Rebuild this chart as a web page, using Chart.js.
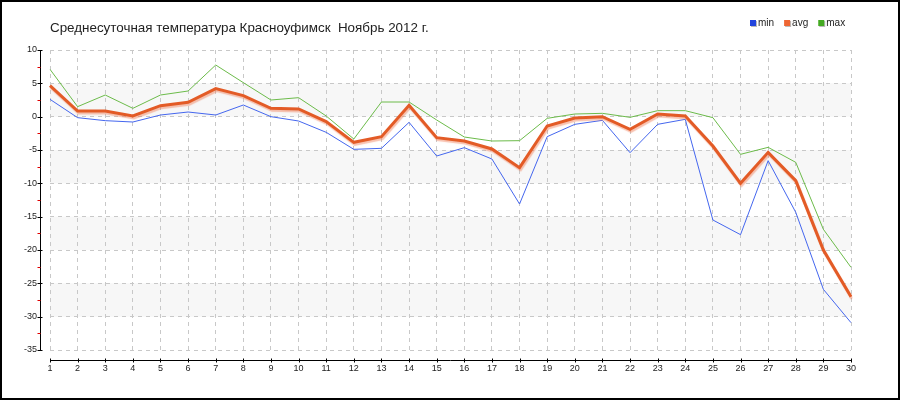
<!DOCTYPE html>
<html>
<head>
<meta charset="utf-8">
<script src="https://cdn.jsdelivr.net/npm/chart.js@4/dist/chart.umd.min.js"></script>
<style>
  html, body { margin: 0; padding: 0; background: #fff; }
  #wrap { width: 900px; height: 400px; }
</style>
</head>
<body>
<div id="wrap"><canvas id="chart" width="900" height="400"></canvas></div>
<script>
// данные: ноябрь 2012, Красноуфимск
const days = ['1','2','3','4','5','6','7','8','9','10','11','12','13','14','15',
  '16','17','18','19','20','21','22','23','24','25','26','27','28','29','30'];
const minT = [2.6, -0.15, -0.6, -0.8, 0.25, 0.7, 0.25, 1.75, 0, -0.65, -2.35, -4.9, -4.75, -0.85, -5.9,
  -4.65, -6.35, -13.1, -3.0, -1.15, -0.55, -5.4, -1.15, -0.4, -15.5, -17.7, -6.6, -14.35, -25.9, -30.9];
const avgT = [4.65, 0.85, 0.85, 0.1, 1.65, 2.15, 4.2, 3.15, 1.25, 1.15, -0.75, -3.85, -3.0, 1.7, -3.15,
  -3.65, -4.85, -7.65, -1.4, -0.2, 0, -1.9, 0.4, 0.1, -4.4, -10, -5.35, -9.6, -20, -27];
const maxT = [7.1, 1.5, 3.25, 1.25, 3.25, 3.85, 7.75, 5.1, 2.5, 2.85, 0.1, -3.35, 2.2, 2.2, -0.5,
  -3.05, -3.65, -3.6, -0.25, 0.4, 0.5, -0.1, 0.9, 0.9, -0.15, -5.65, -4.6, -6.85, -16.9, -22.6];
const yMin = -35, yMax = 10, yStep = 5;
const title = 'Среднесуточная температура Красноуфимск  Ноябрь 2012 г.';

const legendColors = ['#2244dd', '#ee6633', '#44aa22'];

// полосы, оси, рамка, заголовок и легенда
const decor = {
  id: 'decor',
  beforeDraw(chart) {
    const { ctx, chartArea: a } = chart;
    const y = chart.scales.y;
    ctx.save();
    ctx.fillStyle = '#fff';
    ctx.fillRect(0, 0, chart.width, chart.height);
    ctx.fillStyle = '#f7f7f7';
    const ticks = y.ticks.map(t => t.value).sort((p, q) => q - p);
    for (let i = 1; i < ticks.length - 1; i += 2) {
      const y1 = y.getPixelForValue(ticks[i]);
      const y2 = y.getPixelForValue(ticks[i + 1]);
      ctx.fillRect(a.left, y1, a.right - a.left, y2 - y1);
    }
    ctx.restore();
  },
  afterDraw(chart) {
    const { ctx, chartArea: a } = chart;
    const x = chart.scales.x, y = chart.scales.y;
    ctx.save();
    ctx.lineWidth = 1;
    // ось Y
    const ax = a.left - 9.5;
    ctx.strokeStyle = '#000';
    ctx.beginPath();
    ctx.moveTo(ax, y.getPixelForValue(yMax));
    ctx.lineTo(ax, y.getPixelForValue(yMin));
    ctx.stroke();
    y.ticks.forEach(t => {
      const py = Math.round(y.getPixelForValue(t.value)) + 0.5;
      ctx.strokeStyle = '#000';
      ctx.beginPath();
      ctx.moveTo(ax - 3, py);
      ctx.lineTo(ax + 2, py);
      ctx.stroke();
      if (t.value > yMin) {
        const pm = Math.round(y.getPixelForValue(t.value - yStep / 2)) + 0.5;
        ctx.strokeStyle = '#e00000';
        ctx.beginPath();
        ctx.moveTo(ax - 3, pm);
        ctx.lineTo(ax, pm);
        ctx.stroke();
      }
    });
    // ось X
    const ay = a.bottom + 10.5;
    ctx.strokeStyle = '#000';
    ctx.beginPath();
    ctx.moveTo(x.getPixelForValue(0), ay);
    ctx.lineTo(x.getPixelForValue(days.length - 1), ay);
    ctx.stroke();
    days.forEach((d, i) => {
      const px = Math.round(x.getPixelForValue(i)) + 0.5;
      ctx.beginPath();
      ctx.moveTo(px, ay - 2);
      ctx.lineTo(px, ay + 2);
      ctx.stroke();
    });
    // рамка
    ctx.lineWidth = 2;
    ctx.strokeStyle = '#000';
    ctx.strokeRect(1, 1, chart.width - 2, chart.height - 2);
    // заголовок
    ctx.fillStyle = '#222';
    ctx.font = '13.4px "Liberation Sans", Arial, sans-serif';
    ctx.textBaseline = 'middle';
    ctx.textAlign = 'left';
    ctx.fillText(title, a.left, 28);
    // легенда
    ctx.font = '10px "Liberation Sans", Arial, sans-serif';
    const items = chart.data.datasets
      .slice()
      .sort((p, q) => p.legendIndex - q.legendIndex);
    let lx = 750;
    items.forEach(ds => {
      ctx.fillStyle = '#bbb';
      ctx.fillRect(lx + 1, 21, 6, 6);
      ctx.fillStyle = legendColors[ds.legendIndex];
      ctx.fillRect(lx, 20, 6, 6);
      ctx.fillStyle = '#222';
      ctx.fillText(ds.label, lx + 8, 23);
      lx += 8 + ctx.measureText(ds.label).width + 10;
    });
    ctx.restore();
  }
};

// тень под линией avg
const shadow = {
  id: 'shadow',
  beforeDatasetDraw(chart, args) {
    if (chart.data.datasets[args.index].label !== 'avg') return;
    const ctx = chart.ctx;
    ctx.save();
    ctx.shadowColor = 'rgba(240, 120, 80, 0.45)';
    ctx.shadowOffsetX = 1;
    ctx.shadowOffsetY = 2;
    ctx.shadowBlur = 1;
  },
  afterDatasetDraw(chart, args) {
    if (chart.data.datasets[args.index].label !== 'avg') return;
    chart.ctx.restore();
  }
};

new Chart(document.getElementById('chart'), {
  type: 'line',
  data: {
    labels: days,
    datasets: [
      { label: 'min', data: minT, borderColor: '#4466ee', borderWidth: 1, order: 2, legendIndex: 0 },
      { label: 'avg', data: avgT, borderColor: '#e35b26', borderWidth: 3, order: 0, legendIndex: 1 },
      { label: 'max', data: maxT, borderColor: '#6cbb4a', borderWidth: 1, order: 1, legendIndex: 2 }
    ]
  },
  options: {
    responsive: false,
    animation: false,
    events: [],
    elements: { point: { radius: 0 }, line: { tension: 0 } },
    layout: { padding: { top: 50, right: 49, left: 0, bottom: 0 } },
    plugins: { legend: { display: false }, title: { display: false }, tooltip: { enabled: false } },
    scales: {
      x: {
        offset: false,
        afterFit: s => { s.height = 50; },
        grid: { color: '#c8c8c8', drawTicks: false },
        border: { display: false, dash: [4, 4] },
        ticks: {
          padding: 13, color: '#222', maxRotation: 0, autoSkip: false,
          font: { family: '"Liberation Sans", Arial, sans-serif', size: 9 }
        }
      },
      y: {
        min: yMin, max: yMax,
        afterFit: s => { s.width = 50; },
        grid: { color: '#c8c8c8', drawTicks: false },
        border: { display: false, dash: [4, 4] },
        ticks: {
          stepSize: yStep, padding: 13, color: '#222',
          font: { family: '"Liberation Sans", Arial, sans-serif', size: 9 }
        }
      }
    }
  },
  plugins: [decor, shadow]
});
</script>
</body>
</html>
